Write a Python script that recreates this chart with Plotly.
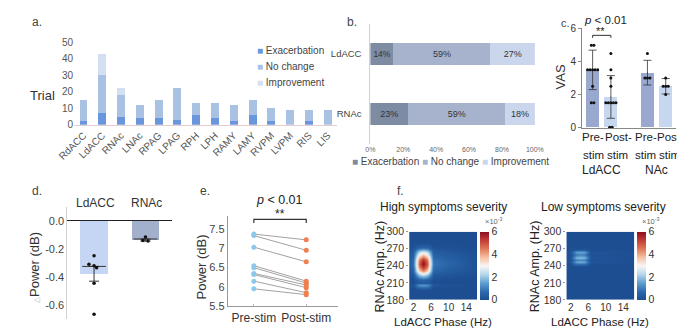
import plotly.graph_objects as go

W, H = 685, 328
FONT = "Liberation Sans, Arial, sans-serif"

# ---------------- data ----------------
a_regions = ["RdACC", "LdACC", "RNAc", "LNAc", "RPAG", "LPAG", "RPH", "LPH",
             "RAMY", "LAMY", "RVPM", "LVPM", "RIS", "LIS"]
a_exacerbation = [2, 7, 5, 4, 4, 3, 6, 4, 2, 6, 2, 0, 2, 0]
a_nochange = [13, 23, 13, 8, 11, 19, 7, 9, 10, 9, 8, 9, 7, 9]
a_improvement = [0, 13, 4, 0, 0, 0, 0, 0, 0, 0, 0, 0, 0, 0]

b_sites = ["LdACC", "RNAc"]
b_exacerbation = [14, 23]
b_nochange = [59, 59]
b_improvement = [27, 18]

c_groups = ["Pre-stim LdACC", "Post-stim LdACC", "Pre-stim NAc", "Post-stim NAc"]
c_mean = [3.5, 1.85, 3.33, 2.5]
c_sd = [1.2, 1.3, 0.75, 0.47]
c_pre_ldacc = [5, 5, 3.5, 3.5, 3.5, 3.5, 3.5, 2.5, 1.5, 1.5]
c_post_ldacc = [4.5, 3.5, 3, 2.5, 1.5, 1.5, 1.5, 1.5, 1.5, 0, 0]
c_pre_nac = [4.5, 3, 3, 3]
c_post_nac = [3, 2.5, 2.5, 2.5, 2]
c_yticks = [0, 2, 4, 6]

d_sites = ["LdACC", "RNAc"]
d_mean = [-0.377, -0.136]
d_center = [-0.325, -0.13]
d_err_low = [0.105, 0.015]
d_ldacc_pts = [-0.25, -0.31, -0.32, -0.335, -0.445, -0.665]
d_rnac_pts = [-0.115, -0.14, -0.145]

e_labels = ["Pre-stim", "Post-stim"]
e_pre = [7.37, 7.33, 7.03, 6.55, 6.50, 6.35, 6.32, 6.15, 5.95]
e_post = [7.22, 6.95, 6.65, 6.15, 6.10, 6.05, 5.98, 5.85, 5.80]

f_phase = [0.5, 1.9, 2.6, 3.3, 4.2, 5.1, 5.8, 6.5, 17.5]
f_amp_high = [175, 198, 202, 206, 210, 216, 224, 232, 238, 244, 250, 256, 264, 272, 280, 305]
f_high = [
    [0, 0, 0, 0, 0, 0, 0, 0, 0],
    [0, 0, 0, 0, 0, 0, 0, 0, 0],
    [0, 0, 0.4, 0.6, 0.7, 0.6, 0.4, 0, 0],
    [0, 0.2, 0.9, 1.3, 1.4, 1.3, 0.9, 0.2, 0],
    [0, 0, 0.2, 0.3, 0.3, 0.3, 0.2, 0, 0],
    [0, 0, 0.3, 0.5, 0.6, 0.5, 0.3, 0, 0],
    [0, 0.3, 1.2, 2.0, 2.4, 2.0, 1.2, 0.3, 0],
    [0, 0.6, 2.2, 3.6, 4.4, 3.6, 2.2, 0.6, 0],
    [0, 0.8, 2.6, 4.5, 5.5, 4.5, 2.6, 0.8, 0],
    [0, 0.9, 2.8, 4.9, 6.0, 4.9, 2.8, 0.9, 0],
    [0, 0.8, 2.6, 4.5, 5.5, 4.5, 2.6, 0.8, 0],
    [0, 0.6, 2.2, 3.6, 4.4, 3.6, 2.2, 0.6, 0],
    [0, 0.4, 1.4, 2.3, 2.7, 2.3, 1.4, 0.4, 0],
    [0, 0.1, 0.4, 0.6, 0.7, 0.6, 0.4, 0.1, 0],
    [0, 0, 0, 0, 0, 0, 0, 0, 0],
    [0, 0, 0, 0, 0, 0, 0, 0, 0],
]
f_amp_low = [175, 238, 242, 247, 251, 255, 259, 264, 268, 272, 305]
f_low = [
    [0, 0, 0, 0, 0, 0, 0, 0, 0],
    [0, 0, 0, 0, 0, 0, 0, 0, 0],
    [0, 0, 0.3, 0.5, 0.5, 0.5, 0.3, 0, 0],
    [0, 0.2, 1.0, 1.6, 1.7, 1.6, 1.0, 0.2, 0],
    [0, 0.1, 0.6, 1.0, 1.1, 1.0, 0.6, 0.1, 0],
    [0, 0.2, 1.1, 1.8, 1.9, 1.8, 1.1, 0.2, 0],
    [0, 0.1, 0.6, 1.0, 1.1, 1.0, 0.6, 0.1, 0],
    [0, 0.2, 0.9, 1.5, 1.6, 1.5, 0.9, 0.2, 0],
    [0, 0, 0.2, 0.3, 0.3, 0.3, 0.2, 0, 0],
    [0, 0, 0, 0, 0, 0, 0, 0, 0],
    [0, 0, 0, 0, 0, 0, 0, 0, 0],
]

# ---------------- helpers ----------------
def px(x):
    return x / W

def py(y):
    return 1 - y / H

def spread(vals, step):
    """horizontal offsets so that equal values sit side by side"""
    out = []
    for i, v in enumerate(vals):
        same = [j for j, w in enumerate(vals) if w == v]
        k = same.index(i)
        n = len(same)
        out.append((k - (n - 1) / 2) * step)
    return out

annotations = []

def ann(x, y, text, size=12, color="#333", xanchor="center", yanchor="middle", angle=0):
    annotations.append(dict(x=px(x), y=py(y), xref="paper", yref="paper", text=text,
                            showarrow=False, xanchor=xanchor, yanchor=yanchor,
                            textangle=angle, font=dict(size=size, color=color, family=FONT)))

fig = go.Figure()

# ---------------- panel a ----------------
A_COL = ["#6a97dc", "#a9c1e3", "#d4e0f2"]
for vals, col, name in zip([a_exacerbation, a_nochange, a_improvement], A_COL,
                           ["Exacerbation", "No change", "Improvement"]):
    fig.add_trace(go.Bar(x=a_regions, y=vals, marker=dict(color=col, line=dict(width=0)),
                         width=0.42, name=name, showlegend=False, xaxis="x", yaxis="y"))

# ---------------- panel b ----------------
B_COL = ["#7d8ba3", "#a7b3cc", "#c9d6ec"]
for vals, col in zip([b_exacerbation, b_nochange, b_improvement], B_COL):
    fig.add_trace(go.Bar(y=b_sites, x=vals, orientation="h", width=0.37,
                         marker=dict(color=col, line=dict(width=0)),
                         text=[f"{v}%" for v in vals], textposition="inside",
                         insidetextanchor="middle", textangle=0,
                         textfont=dict(size=9, color="#333", family=FONT),
                         showlegend=False, xaxis="x2", yaxis="y2"))

# ---------------- panel c ----------------
c_pos = [0, 1, 3, 4]
C_COL = ["#98a8ce", "#c7d7f0", "#98a8ce", "#c7d7f0"]
fig.add_trace(go.Bar(x=c_pos, y=c_mean, width=0.72, marker=dict(color=C_COL, line=dict(width=0)),
                     showlegend=False, xaxis="x3", yaxis="y3"))
fig.add_trace(go.Scatter(x=c_pos, y=c_mean, mode="markers", marker=dict(size=1, color="#333"),
                         error_y=dict(type="data", array=c_sd, color="#333", thickness=0.8, width=4),
                         showlegend=False, xaxis="x3", yaxis="y3"))
for pos, pts in zip(c_pos, [c_pre_ldacc, c_post_ldacc, c_pre_nac, c_post_nac]):
    offs = spread(pts, 0.14)
    fig.add_trace(go.Scatter(x=[pos + o for o in offs], y=pts, mode="markers",
                             marker=dict(size=3, color="#111"), showlegend=False,
                             xaxis="x3", yaxis="y3", cliponaxis=False))

# ---------------- panel d ----------------
d_pos = [0, 1]
fig.add_trace(go.Bar(x=d_pos, y=d_mean, width=0.53,
                     marker=dict(color=["#c4d6f3", "#a3b0cc"], line=dict(width=0)),
                     showlegend=False, xaxis="x4", yaxis="y4"))
fig.add_trace(go.Scatter(x=d_pos, y=d_center, mode="markers",
                         marker=dict(symbol="line-ew-open", size=17, color="#333",
                                     line=dict(width=1, color="#333")),
                         error_y=dict(type="data", symmetric=False, array=[0, 0], arrayminus=d_err_low,
                                      color="#333", thickness=1, width=5),
                         showlegend=False, xaxis="x4", yaxis="y4"))
d_ld_off = [0.0, -0.1, 0.0, 0.05, 0.0, 0.0]
d_rn_off = [0.0, -0.05, 0.05]
fig.add_trace(go.Scatter(x=[0 + o for o in d_ld_off] + [1 + o for o in d_rn_off],
                         y=d_ldacc_pts + d_rnac_pts, mode="markers",
                         marker=dict(size=3.5, color="#111"), showlegend=False,
                         xaxis="x4", yaxis="y4"))

# ---------------- panel e ----------------
lx, ly = [], []
for a, b in zip(e_pre, e_post):
    lx += [0, 1, None]
    ly += [a, b, None]
fig.add_trace(go.Scatter(x=lx, y=ly, mode="lines", line=dict(color="#8a8a8a", width=0.8),
                         showlegend=False, xaxis="x5", yaxis="y5"))
fig.add_trace(go.Scatter(x=[0] * len(e_pre), y=e_pre, mode="markers",
                         marker=dict(size=5, color="#8cc8ea"), showlegend=False, xaxis="x5", yaxis="y5"))
fig.add_trace(go.Scatter(x=[1] * len(e_post), y=e_post, mode="markers",
                         marker=dict(size=5, color="#ee7f50"), showlegend=False, xaxis="x5", yaxis="y5"))

# ---------------- panel f ----------------
CS = [[0, "#1d4e92"], [0.12, "#2c69ad"], [0.25, "#5f9fd0"], [0.38, "#b9d8ec"],
      [0.5, "#f6f6f6"], [0.62, "#f7c3a7"], [0.75, "#e07a5b"], [0.88, "#c13b35"], [1, "#8c0d20"]]

def cbar(xleft):
    return dict(x=px(xleft), xanchor="left", y=py(261.35), yanchor="middle",
                len=70.7 / H, lenmode="fraction", thickness=9, thicknessmode="pixels",
                xpad=0, ypad=0, outlinewidth=0, tickvals=[0, 2, 4, 6], ticks="",
                tickfont=dict(size=10.5, color="#333", family=FONT))

fig.add_trace(go.Heatmap(x=f_phase, y=f_amp_high, z=f_high, zmin=0, zmax=6, zsmooth="best",
                         colorscale=CS, colorbar=cbar(472.7), xaxis="x6", yaxis="y6"))
fig.add_trace(go.Heatmap(x=f_phase, y=f_amp_low, z=f_low, zmin=0, zmax=6, zsmooth="best",
                         colorscale=CS, colorbar=cbar(636), xaxis="x7", yaxis="y7"))

# ---------------- axes ----------------
tf = lambda s, c="#555": dict(size=s, color=c, family=FONT)
layout = dict(
    width=W, height=H, autosize=False, margin=dict(l=0, r=0, t=0, b=0),
    paper_bgcolor="white", plot_bgcolor="white", barmode="stack",
    font=dict(family=FONT, color="#333"),
    # a
    xaxis=dict(domain=[px(51), px(324.5)], anchor="y", tickangle=-45, tickfont=tf(10),
               showline=True, linecolor="#e6cccc", linewidth=1, ticks="", showgrid=False,
               range=[-0.5, 13.5]),
    yaxis=dict(domain=[py(115), py(29.3)], anchor="x", range=[0, 50], dtick=10, showgrid=False,
               zeroline=False, showline=False, tickfont=tf(10), ticks=""),
    # b
    xaxis2=dict(domain=[px(359), px(530)], anchor="y2", range=[0, 100], tickvals=[0, 20, 40, 60, 80, 100],
                ticktext=["0%", "20%", "40%", "60%", "80%", "100%"], tickfont=tf(7, "#666"),
                showline=False, showgrid=False, zeroline=False, ticks=""),
    yaxis2=dict(domain=[py(135), py(10.5)], anchor="x2", range=[1.5, -0.5], tickfont=tf(9.5, "#444"),
                showline=True, linecolor="#d0d0d0", ticks="", ticklabelstandoff=6,
                showgrid=False),
    # c
    xaxis3=dict(domain=[px(579), px(677)], anchor="y3", range=[-0.58, 4.58], showticklabels=False,
                showline=True, linecolor="#888", ticks="", showgrid=False, zeroline=False),
    yaxis3=dict(domain=[py(118), py(15)], anchor="x3", range=[-0.02, 6.02], tickmode="array",
                tickvals=c_yticks, ticktext=[str(v) for v in c_yticks], showticklabels=True,
                ticklabelposition="outside", automargin=False,
                tickfont=tf(10, "#333"), showline=True, linecolor="#888", ticks="outside", ticklen=3,
                tickcolor="#888", showgrid=False, zeroline=False),
    # d
    xaxis4=dict(domain=[px(44), px(153)], anchor="y4", range=[-0.52, 1.52], showticklabels=False,
                showline=False, ticks="", showgrid=False, zeroline=False),
    yaxis4=dict(domain=[py(316.7), py(200)], anchor="x4", range=[-0.7, 0.1],
                tickvals=[0, -0.2, -0.4, -0.6], ticktext=["0.0", "-0.2", "-0.4", "-0.6"],
                tickfont=tf(11, "#444"), showline=True, linecolor="#d0d0d0", ticks="", showgrid=False,
                zeroline=True, zerolinecolor="#222", zerolinewidth=1.2),
    # e
    xaxis5=dict(domain=[px(210.7), px(325)], anchor="y5", range=[-0.5, 1.6], tickvals=[0, 1],
                ticktext=e_labels, tickfont=tf(12, "#333"), showline=True, linecolor="#999",
                ticks="inside", ticklen=2, tickcolor="#bbb", showgrid=False, zeroline=False),
    yaxis5=dict(domain=[py(303.3), py(210)], anchor="x5", range=[5.5, 7.83],
                tickvals=[5.5, 6, 6.5, 7, 7.5], ticktext=["5.5", "6", "6.5", "7", "7.5"],
                tickfont=tf(11, "#444"), showline=True, linecolor="#999", ticks="", showgrid=False,
                zeroline=False),
)
for i, (x0, x1) in zip([6, 7], [(399.3, 470), (562.7, 633.3)]):
    layout[f"xaxis{i}"] = dict(domain=[px(x0), px(x1)], anchor=f"y{i}", range=[1, 16.5],
                               tickvals=[2, 6, 10, 14], tickfont=tf(10, "#333"), ticks="",
                               showline=False, showgrid=False, zeroline=False)
    layout[f"yaxis{i}"] = dict(domain=[py(296.7), py(226)], anchor=f"x{i}", range=[180, 300],
                               tickvals=[180, 210, 240, 270, 300], tickfont=tf(10.5, "#333"),
                               ticks="outside", ticklen=2, tickcolor="#999", showline=False,
                               showgrid=False, zeroline=False)

# ---------------- text ----------------
ann(5, 8, "a.", 12, "#444", xanchor="left")
ann(333, 8, "b.", 12, "#444", xanchor="left")
ann(555, 9, "c.", 11, "#444", xanchor="left")
ann(5, 184, "d.", 12, "#444", xanchor="left")
ann(180, 184, "e.", 12, "#444", xanchor="left")
ann(385, 184, "f.", 12, "#444", xanchor="left")

ann(18, 85, "Trial", 13, "#333")
for name, col, yy in zip(["Exacerbation", "No change", "Improvement"], A_COL, [38, 55, 71]):
    ann(239, yy, f"<span style='color:{col}'>■</span> {name}", 10, "#444", xanchor="left")

ann(338, 153, " ".join(f"<span style='color:{c}'>■</span> {n}" for c, n in
                       zip(B_COL, ["Exacerbation", "No change", "Improvement"])), 10, "#444",
    xanchor="left")

# c labels
ann(557, 65, "VAS", 13, "#333", angle=-90)
ann(603, 6, "<i>p</i> < 0.01", 11.5, "#222")
ann(598, 18, "**", 11, "#222")
for xx, t1 in zip([590, 617, 646, 671], ["Pre-", "Post-", "Pre-", "Post-"]):
    ann(xx, 128, t1, 11.5, "#222")
for xx in [591, 616, 645, 670]:
    ann(xx, 146, "stim", 11.5, "#222")
ann(599, 162, "LdACC", 12, "#222")
ann(656, 162, "NAc", 12, "#222")

# d labels
ann(73, 196, "LdACC", 12, "#333")
ann(126, 196, "RNAc", 12, "#333")
ann(10, 263, "<span style='font-size:8px;color:#bbb'>△</span>Power (dB)", 13, "#333", angle=-90)

# e labels
ann(183, 263, "Power (dB)", 13, "#333", angle=-90)
ann(265, 193, "<i>p</i> < 0.01", 12.5, "#222")
ann(265, 208, "**", 12, "#222")

# f labels
ann(435, 200, "High symptoms severity", 12, "#222")
ann(601, 200, "Low symptoms severity", 12, "#222")
ann(369, 262, "RNAc Amp. (Hz)", 12.5, "#222", angle=-90)
ann(531, 262, "RNAc Amp. (Hz)", 12.5, "#222", angle=-90)
ann(435, 320, "LdACC Phase (Hz)", 11.5, "#222")
ann(598, 320, "LdACC Phase (Hz)", 11.5, "#222")
ann(476, 215, "×10<sup>-3</sup>", 7.5, "#666", xanchor="left")
ann(639, 215, "×10<sup>-3</sup>", 7.5, "#666", xanchor="left")

layout["annotations"] = annotations
layout["shapes"] = [
    dict(type="path", xref="x3", yref="y3", path="M 0,5.45 L 0,5.6 L 1,5.6 L 1,5.45",
         line=dict(color="#333", width=1)),
    dict(type="path", xref="x5", yref="y5", path="M 0,7.66 L 0,7.75 L 1,7.75 L 1,7.66",
         line=dict(color="#333", width=1.2)),
]
fig.update_layout(**layout)
fig.write_html("out.html")
